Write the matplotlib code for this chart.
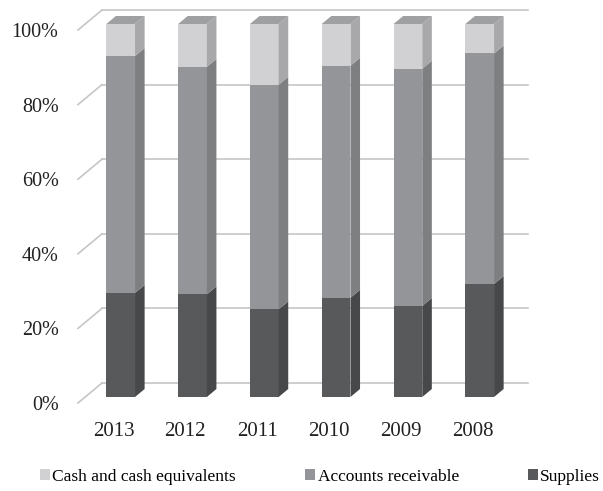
import numpy as np
import matplotlib.pyplot as plt
from matplotlib.patches import Patch, Polygon, Rectangle

# share of each asset class per year (percent of total)
years = ["2013", "2012", "2011", "2010", "2009", "2008"]
supplies = [27.9, 27.5, 23.5, 26.6, 24.4, 30.3]
receivable = [63.5, 61.0, 60.2, 62.2, 63.6, 61.8]
cash = [8.6, 11.5, 16.3, 11.2, 12.0, 7.9]
series_names = ["Cash and cash equivalents", "Accounts receivable", "Supplies"]
yticks = [0, 20, 40, 60, 80, 100]

# face colours: front, side, top
shades = {
    "Supplies": ("#58595b", "#47484a", "#6a6b6d"),
    "Accounts receivable": ("#939598", "#7e7f81", "#9a9b9d"),
    "Cash and cash equivalents": ("#d1d1d3", "#a8a8aa", "#9fa0a2"),
}
grid_col = "#c6c6c6"

# oblique projection: one unit of depth shifts by DX categories, DY percent
DX, DY = 0.334, 5.36
bar_w = 0.40
front, back = 0.3, 0.7

plt.rcParams["font.family"] = ["Liberation Serif", "DejaVu Serif"]
fig = plt.figure(figsize=(6.03, 4.91), dpi=100)
ax = fig.add_axes([78 / 603, 88 / 491, 450 / 603, 393 / 491])
ax.set_xlim(-0.494, 5.773)
ax.set_ylim(0, 105.36)
for s in ax.spines.values():
    s.set_visible(False)
ax.set_facecolor("none")

# back wall gridlines and left wall edges
x0 = ax.get_xlim()[0]
x1 = ax.get_xlim()[1]
for v in yticks:
    ax.plot([x0, x0 + DX], [v, v + DY], color=grid_col, lw=1.2, clip_on=False, zorder=1)
    ax.plot([x0 + DX, x1], [v + DY, v + DY], color=grid_col, lw=1.2, clip_on=False, zorder=1)


def draw_box(x, lo, hi, cols, top):
    fc, sc, tc = cols
    xl = x + front * DX - bar_w / 2
    xr = xl + bar_w
    b = lo + front * DY
    t = hi + front * DY
    d = (back - front)
    ax.add_patch(Rectangle((xl, b), bar_w, t - b, facecolor=fc, edgecolor="none", zorder=3))
    ax.add_patch(Polygon([(xr, b), (xr + d * DX, b + d * DY), (xr + d * DX, t + d * DY), (xr, t)],
                         closed=True, facecolor=sc, edgecolor="none", zorder=3))
    if top:
        ax.add_patch(Polygon([(xl, t), (xr, t), (xr + d * DX, t + d * DY), (xl + d * DX, t + d * DY)],
                             closed=True, facecolor=tc, edgecolor="none", zorder=3, clip_on=False))


for i in range(len(years)):
    stack = [("Supplies", supplies[i]), ("Accounts receivable", receivable[i]),
             ("Cash and cash equivalents", cash[i])]
    base = 0.0
    for k, (name, val) in enumerate(stack):
        draw_box(i, base, base + val, shades[name], k == len(stack) - 1)
        base += val

ax.set_yticks(yticks)
ax.set_yticklabels([f"{v}%" for v in yticks], fontsize=14.5, color="#222222")
ax.set_xticks(range(len(years)))
ax.set_xticklabels(years, fontsize=15, color="#222222")
ax.tick_params(axis="y", length=0, pad=14)
ax.tick_params(axis="x", length=0, pad=14)

handles = [Patch(facecolor=shades[n][0], edgecolor="none", label=n) for n in series_names]
fig.legend(handles=handles, loc="lower center", bbox_to_anchor=(0.531, -0.012), ncol=3,
           frameon=False, fontsize=12.5, handlelength=0.55, handleheight=0.6,
           handletextpad=0.15, columnspacing=4.0, borderpad=0.2)

fig.savefig("out.png", dpi=100)
